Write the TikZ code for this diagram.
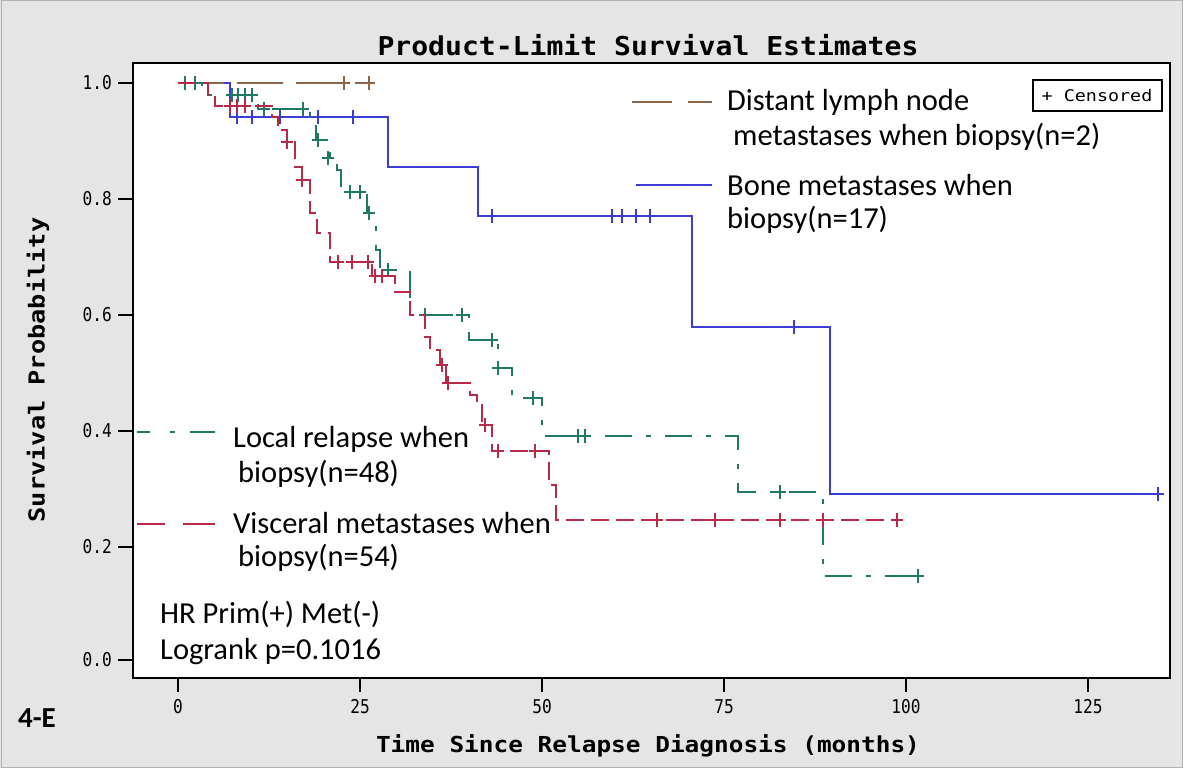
\documentclass[tikz,border=0pt]{standalone}
\usepackage{fontspec}
\setmainfont{Carlito}
\newfontfamily\sasfont{DejaVu Sans Mono}
\definecolor{bggray}{RGB}{229,229,229}
\definecolor{brn}{RGB}{140,100,70}
\definecolor{blu}{RGB}{60,60,215}
\definecolor{grn}{RGB}{30,122,100}
\definecolor{rd}{RGB}{185,40,70}
\tikzset{
  cens/.pic={\draw[solid,line width=1.4pt,line cap=butt] (-6,0)--(6,0) (0,-7)--(0,7);},
  curve/.style={line width=2pt},
  lgtext/.style={anchor=west,inner sep=0pt,font=\fontsize{30.5}{30.5}\selectfont},
  ticklab/.style={inner sep=0pt,font=\sasfont\fontsize{19}{19}\selectfont},
  axlab/.style={inner sep=0pt,font=\sasfont\bfseries\fontsize{22}{22}\selectfont},
}
\begin{document}
\begin{tikzpicture}[x=1pt,y=-1pt]
\useasboundingbox (0,0) rectangle (1183,768);
\fill[bggray] (0,0) rectangle (1183,768);
\draw[gray!60,line width=1pt] (1,1) rectangle (1182,767);
% plot frame
\fill[white] (133,63) rectangle (1170,678);
% title and axis labels
\node[axlab,font=\sasfont\bfseries\fontsize{26}{26}\selectfont] (title) at (648,45) {\scalebox{1.08}[1]{Product-Limit Survival Estimates}};
\node[axlab] (xlab) at (648,746) {\scalebox{1.11}[1]{Time Since Relapse Diagnosis (months)}};
\node[axlab,rotate=90] (ylab) at (38,370) {\scalebox{1.15}[1]{Survival Probability}};
\node[inner sep=0pt,font=\bfseries\fontsize{29}{29}\selectfont] (fig) at (37,718) {4-E};
% y ticks
\foreach \v/\yy in {1.0/83,0.8/199,0.6/315,0.4/431,0.2/547,0.0/660}{
  \draw[line width=1.3pt] (118,\yy) -- (133,\yy);
  \node[ticklab,anchor=east] at (112,\yy) {\scalebox{0.85}[1]{\v}};
}
% x ticks
\foreach \v/\xx in {0/178,25/360,50/542,75/724,100/906,125/1088}{
  \draw[line width=1.3pt] (\xx,678) -- (\xx,692);
  \node[ticklab] at (\xx,707) {\scalebox{0.85}[1]{\v}};
}
% curves
\draw[curve,blu] (178,83) -| (230,117) -| (388,167) -| (478,216) -| (692,327) -| (830,494) -- (1160,494);
\foreach \xx/\yy in {237/117,252/117,280/117,318/117,353/117,492/216,612/216,622/216,636/216,650/216,794/327,1158/494}
  \pic[color=blu] at (\xx,\yy) {cens};
\draw[curve,brn,dash pattern=on 46pt off 13pt] (178,83) -- (369,83);
\foreach \xx in {344,369} \pic[color=brn] at (\xx,83) {cens};
\draw[curve,grn,dash pattern=on 27pt off 14pt on 5pt off 14pt] (178,83) -| (202,95) -| (258,109) -| (310,122) -| (316,140) -| (330,158) -| (337,170) -| (341,192) -| (367,213) -| (376,250) -| (380,270) -| (410,315) -| (469,340) -| (498,368) -| (512,398) -| (542,436) -| (738,492) -| (823,576) -- (923,576);
\foreach \xx/\yy in {185/83,195/83,232/95,238/95,245/95,252/95,264/109,303/109,318/140,328/158,350/192,360/192,369/213,388/270,425/315,462/315,492/340,498/368,533/398,578/436,585/436,780/492,918/576}
  \pic[color=grn] at (\xx,\yy) {cens};
\draw[curve,rd,dash pattern=on 18pt off 7pt] (178,83) -| (208,95) -| (215,106) -| (272,117) -| (278,130) -| (287,142) -| (295,167) -| (302,180) -| (310,213) -| (317,233) -| (330,262) -| (372,276) -| (395,292) -| (410,315) -| (425,337) -| (430,350) -| (440,365) -| (446,383) -| (470,395) -| (477,405) -| (482,425) -| (492,451) -| (549,485) -| (556,520) -- (900,520);
\foreach \xx/\yy in {230/106,237/106,245/106,287/142,302/180,338/262,352/262,368/262,375/276,382/276,442/365,448/383,485/425,498/451,535/451,657/520,715/520,780/520,823/520,897/520}
  \pic[color=rd] at (\xx,\yy) {cens};
% frame border on top
\draw[line width=1.6pt] (133,63) rectangle (1170,678);
% legend
\draw[curve,brn] (632,102) -- (672,102) (688,102) -- (712,102);
\node[lgtext] (l1a) at (727,102) {Distant lymph node};
\node[lgtext] (l1b) at (733,137) {metastases when biopsy(n=2)};
\draw[curve,blu] (636,185) -- (712,185);
\node[lgtext] (l2a) at (727,185) {Bone metastases when};
\node[lgtext] (l2b) at (727,220) {biopsy(n=17)};
\draw[curve,grn] (137,432) -- (150,432) (170,432) -- (175,432) (190,432) -- (215,432);
\node[lgtext] (l3a) at (233,439) {Local relapse when};
\node[lgtext] (l3b) at (238,474) {biopsy(n=48)};
\draw[curve,rd] (137,524) -- (165,524) (183,524) -- (215,524);
\node[lgtext] (l4a) at (233,523) {Visceral metastases when};
\node[lgtext] (l4b) at (238,558) {biopsy(n=54)};
\node[lgtext] (hr) at (160,614) {HR Prim(+) Met(-)};
\node[lgtext] (lr) at (160,652) {Logrank p=0.1016};
% censored box
\draw[line width=1.3pt] (1033,80) rectangle (1162,111);
\node[inner sep=0pt,font=\sasfont\fontsize{16}{16}\selectfont] (cbox) at (1097,96) {\scalebox{1.15}[1]{+ Censored}};
\end{tikzpicture}
\end{document}
